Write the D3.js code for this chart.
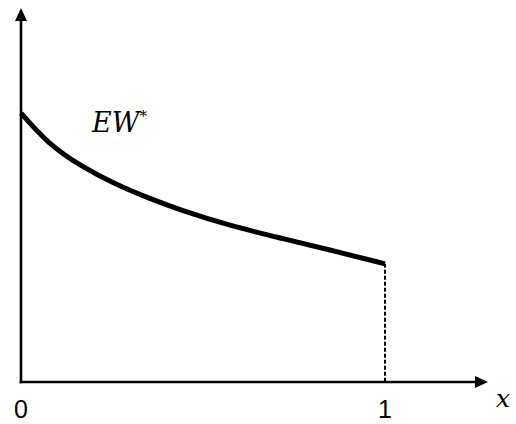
<!doctype html>
<html>
<head>
<meta charset="utf-8">
<script src="https://cdn.jsdelivr.net/npm/d3@7"></script>
<style>
  body { margin: 0; background: #fff; }
  svg { display: block; }
</style>
</head>
<body>
<script>
// EW* curve (x in [0,1], y as share of axis height)
const xs = [0, 0.074, 0.168, 0.258, 0.349, 0.437, 0.574, 0.712, 0.849, 1]
const ew = [0.719, 0.637, 0.575, 0.529, 0.492, 0.460, 0.418, 0.385, 0.353, 0.316]
const xTicks = [0, 1]

const width = 516, height = 424
const svg = d3.select('body').append('svg')
  .attr('width', width)
  .attr('height', height)

const x = d3.scaleLinear().domain([0, 1]).range([21, 385])
const y = d3.scaleLinear().domain([0, 1]).range([382, 8])

// axes
svg.append('line')
  .attr('x1', x(0)).attr('y1', y(0) + 1.3)
  .attr('x2', x(0)).attr('y2', y(1) + 10)
  .attr('stroke', '#000').attr('stroke-width', 2.6)
svg.append('path')
  .attr('d', `M${x(0)},${y(1)} L${x(0) - 6},${y(1) + 13} L${x(0) + 6},${y(1) + 13} Z`)
  .attr('fill', '#000')

const xEnd = 488
svg.append('line')
  .attr('x1', x(0) - 1.3).attr('y1', y(0))
  .attr('x2', xEnd - 10).attr('y2', y(0))
  .attr('stroke', '#000').attr('stroke-width', 2.6)
svg.append('path')
  .attr('d', `M${xEnd},${y(0)} L${xEnd - 13},${y(0) - 6} L${xEnd - 13},${y(0) + 6} Z`)
  .attr('fill', '#000')

// dashed drop at x = 1
svg.append('line')
  .attr('x1', x(1)).attr('y1', y(ew[ew.length - 1]))
  .attr('x2', x(1)).attr('y2', y(0))
  .attr('stroke', '#000').attr('stroke-width', 2)
  .attr('stroke-dasharray', '4,2')

// curve
const line = d3.line()
  .x((d, i) => x(xs[i]))
  .y(d => y(d))
  .curve(d3.curveBasis)

svg.append('path')
  .datum(ew)
  .attr('d', line)
  .attr('fill', 'none')
  .attr('stroke', '#000')
  .attr('stroke-width', 5)

// tick labels
svg.selectAll('.tick')
  .data(xTicks)
  .join('text')
  .attr('class', 'tick')
  .attr('x', d => x(d))
  .attr('y', 418)
  .attr('text-anchor', 'middle')
  .attr('font-family', "'Liberation Sans', Arial, sans-serif")
  .attr('font-size', 25)
  .text(d => d)

svg.append('text')
  .attr('x', 496)
  .attr('y', 407)
  .attr('font-family', "'DejaVu Serif', serif")
  .attr('font-style', 'italic')
  .attr('font-size', 25)
  .text('x')

const lbl = svg.append('text')
  .attr('x', 92)
  .attr('y', 132)
  .attr('font-family', "'DejaVu Serif', serif")
  .attr('font-style', 'italic')
  .attr('font-size', 27)
lbl.append('tspan').text('EW')
lbl.append('tspan')
  .attr('font-size', 15)
  .attr('font-style', 'normal')
  .attr('dy', -11)
  .text('*')
</script>
</body>
</html>
